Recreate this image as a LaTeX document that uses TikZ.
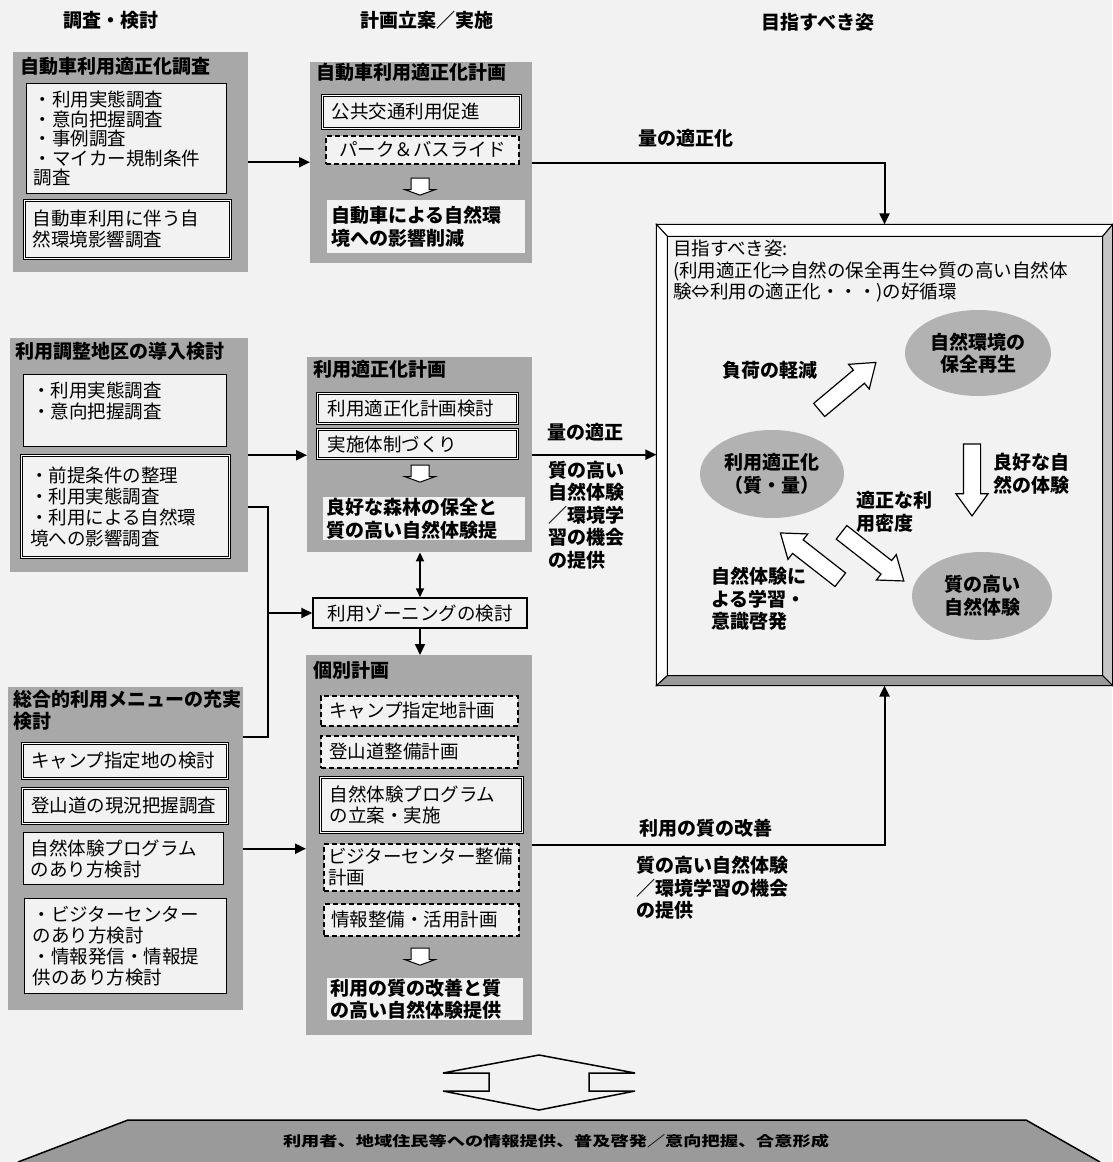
\documentclass[tikz,border=0pt]{standalone}
\usepackage{fontspec}
\setmainfont{Noto Sans CJK JP}
\usepackage{graphicx}
\usepackage{tikz}
\usetikzlibrary{arrows.meta, positioning, calc, shapes.geometric, shapes.arrows}
\definecolor{paper}{HTML}{F2F2F2}
\definecolor{grpgray}{HTML}{A8A8A8}
\definecolor{blobgray}{HTML}{B2B2B2}
\definecolor{bandgray}{HTML}{9A9A9A}
\definecolor{bevelgray}{HTML}{C6C6C6}
\newcommand{\bodyfont}{\fontsize{18.5}{21}\selectfont}
\newcommand{\headfont}{\fontsize{19}{22.5}\selectfont\bfseries}
\tikzset{
  every node/.style = {font=\bodyfont},
  colhead/.style   = {font=\headfont, inner sep=0pt},
  grpbox/.style    = {fill=grpgray, anchor=north west, inner sep=0pt},
  grptitle/.style  = {font=\headfont, align=left, inner sep=0pt},
  plainbox/.style  = {draw, line width=1.2pt, fill=paper, anchor=north west,
                      align=left, inner sep=0pt},
  dblbox/.style    = {plainbox, double, double distance=1.6pt, line width=1pt},
  dashbox/.style   = {plainbox, dash pattern=on 5pt off 3pt, line width=1.5pt},
  outbox/.style    = {fill=paper, anchor=north west, align=left, inner sep=0pt,
                      font=\headfont},
  zonebox/.style   = {draw, line width=1.5pt, fill=paper, minimum width=214pt,
                      minimum height=30pt, inner sep=0pt},
  downmark/.style  = {single arrow, draw, line width=1pt, fill=white, rotate=-90,
                      minimum height=17pt, inner xsep=0pt, inner ysep=8.5pt,
                      single arrow head extend=6pt, single arrow tip angle=140},
  bigarrow/.style  = {single arrow, draw, line width=1.2pt, fill=white,
                      minimum height=74pt, inner xsep=0pt, inner ysep=8pt,
                      single arrow head extend=7.5pt, single arrow tip angle=72},
  blob/.style      = {ellipse, fill=blobgray, font=\headfont, align=center,
                      inner sep=0pt},
  goalframe/.style = {draw, line width=1.2pt, fill=paper, minimum width=455pt,
                      minimum height=460pt, inner sep=0pt},
  lbl/.style       = {font=\headfont, align=left, inner sep=0pt},
  flow/.style      = {-{Triangle[length=11pt,width=10pt]}, line width=2pt},
  twoway/.style    = {{Triangle[length=9pt,width=8pt]}-{Triangle[length=9pt,width=8pt]},
                      line width=1.6pt},
  link/.style      = {line width=2pt},
}

\begin{document}
\begin{tikzpicture}[x=1pt, y=-1pt, node distance=8pt and 6pt]
    \useasboundingbox (0,0) rectangle (1112,1162);
    \fill[paper] (0,0) rectangle (1112,1162);

    % Column headers
    \node[colhead] (h1) at (111,20) {調査・検討};
    \node[colhead] (h2) at (427,20) {計画立案／実施};
    \node[colhead] (h3) at (818,22) {目指すべき姿};

    % Row 1 : car use
    \node[grpbox, minimum width=235pt, minimum height=220pt] (g1) at (13,52) {};
    \node[grptitle, below right=5pt and 7pt of g1.north west] (g1t) {自動車利用適正化調査};
    \node[plainbox, font=\fontsize{18.5}{19.5}\selectfont, minimum width=200pt,
          minimum height=110pt, text width=186pt] (sA) at (26,83)
          {・利用実態調査\\・意向把握調査\\・事例調査\\・マイカー規制条件\\調査};
    \node[dblbox, minimum width=206pt, minimum height=58pt, text width=190pt] (sB) at (24,200)
          {自動車利用に伴う自\\然環境影響調査};

    \node[grpbox, minimum width=222pt, minimum height=201pt] (m1) at (310,62) {};
    \node[grptitle, below right=1pt and 6pt of m1.north west] (m1t) {自動車利用適正化計画};
    \node[dblbox, minimum width=198pt, minimum height=33pt, text width=180pt] (m1a) at (322,95)
          {公共交通利用促進};
    \node[dashbox, align=center, minimum width=193pt, minimum height=28pt, text width=180pt]
          (m1b) at (325,135) {パーク＆バスライド};
    \node[downmark] (m1d) at (420,185) {};
    \node[outbox, minimum width=198pt, minimum height=53pt, text width=190pt] (m1o) at (327,200)
          {自動車による自然環\\境への影響削減};

    % Row 2 : use adjustment area
    \node[grpbox, minimum width=238pt, minimum height=234pt] (g2) at (10,338) {};
    \node[grptitle, below right=4pt and 5pt of g2.north west] (g2t) {利用調整地区の導入検討};
    \node[plainbox, minimum width=203pt, minimum height=72pt, text width=186pt] (sC) at (23,374)
          {・利用実態調査\\・意向把握調査\\\mbox{}};
    \node[dblbox, minimum width=208pt, minimum height=102pt, text width=190pt] (sD) at (21,455)
          {・前提条件の整理\\・利用実態調査\\・利用による自然環\\境への影響調査};

    \node[grpbox, minimum width=225pt, minimum height=195pt] (m2) at (307,357) {};
    \node[grptitle, below right=3pt and 6pt of m2.north west] (m2t) {利用適正化計画};
    \node[dblbox, minimum width=200pt, minimum height=30pt, text width=180pt] (m2a) at (317,393)
          {利用適正化計画検討};
    \node[dblbox, minimum width=200pt, minimum height=29pt, text width=180pt] (m2b) at (317,429)
          {実施体制づくり};
    \node[downmark] (m2d) at (420,472) {};
    \node[outbox, minimum width=202pt, minimum height=43pt, text width=196pt] (m2o) at (323,497)
          {良好な森林の保全と\\質の高い自然体験提};

    \node[zonebox] (zone) at (420,613) {利用ゾーニングの検討};

    % Row 3 : programme menu
    \node[grpbox, minimum width=235pt, minimum height=323pt] (g3) at (8,687) {};
    \node[grptitle, below right=3pt and 5pt of g3.north west] (g3t) {総合的利用メニューの充実\\検討};
    \node[dblbox, minimum width=205pt, minimum height=35pt, text width=188pt] (sE) at (22,743)
          {キャンプ指定地の検討};
    \node[dblbox, minimum width=205pt, minimum height=35pt, text width=188pt] (sF) at (22,788)
          {登山道の現況把握調査};
    \node[plainbox, minimum width=200pt, minimum height=52pt, text width=186pt] (sG) at (23,832)
          {自然体験プログラム\\のあり方検討};
    \node[plainbox, minimum width=202pt, minimum height=95pt, text width=186pt] (sH) at (24,898)
          {・ビジターセンター\\のあり方検討\\・情報発信・情報提\\供のあり方検討};

    \node[grpbox, minimum width=226pt, minimum height=380pt] (m3) at (306,655) {};
    \node[grptitle, below right=6pt and 7pt of m3.north west] (m3t) {個別計画};
    \node[dashbox, minimum width=197pt, minimum height=30pt, text width=180pt] (m3a) at (320,695)
          {キャンプ指定地計画};
    \node[dashbox, minimum width=197pt, minimum height=32pt, text width=180pt] (m3b) at (320,735)
          {登山道整備計画};
    \node[dblbox, minimum width=202pt, minimum height=55pt, text width=184pt] (m3c) at (320,777)
          {自然体験プログラム\\の立案・実施};
    \node[dashbox, minimum width=195pt, minimum height=47pt, text width=186pt] (m3d) at (323,843)
          {ビジターセンター整備\\計画};
    \node[dashbox, minimum width=195pt, minimum height=32pt, text width=180pt] (m3e) at (323,903)
          {情報整備・活用計画};
    \node[downmark] (m3f) at (420,955) {};
    \node[outbox, minimum width=196pt, minimum height=42pt, text width=190pt] (m3o) at (327,978)
          {利用の質の改善と質\\の高い自然体験提供};

    % Goal frame
    \node[goalframe] (goal) at (884.5,455) {};
    \filldraw[fill=white, line width=1pt] (goal.north west) -- (goal.north east)
        -- ($(goal.north east)+(-10,12)$) -- ($(goal.north west)+(11,12)$) -- cycle;
    \filldraw[fill=white, line width=1pt] (goal.north west) -- ($(goal.north west)+(11,12)$)
        -- ($(goal.south west)+(11,-10)$) -- (goal.south west) -- cycle;
    \filldraw[fill=bevelgray, line width=1pt] (goal.north east) -- (goal.south east)
        -- ($(goal.south east)+(-10,-10)$) -- ($(goal.north east)+(-10,12)$) -- cycle;
    \filldraw[fill=bandgray, line width=1pt] (goal.south west) -- (goal.south east)
        -- ($(goal.south east)+(-10,-10)$) -- ($(goal.south west)+(11,-10)$) -- cycle;
    \node[anchor=north west, align=left, inner sep=0pt, font=\fontsize{18.5}{21.5}\selectfont]
          (gtxt) at (673,240)
          {目指すべき姿:\\(利用適正化⇒自然の保全再生⇔質の高い自然体\\験⇔利用の適正化・・・)の好循環};

    \node[blob, minimum width=146pt, minimum height=86pt] (nat) at (978,353) {自然環境の\\保全再生};
    \node[blob, minimum width=144pt, minimum height=88pt] (use) at (772,474) {利用適正化\\（質・量）};
    \node[blob, minimum width=140pt, minimum height=88pt] (exq) at (982,596) {質の高い\\自然体験};

    \node[bigarrow, rotate=40] (aLoad) at (843,390) {};
    \node[lbl] (lLoad) at (770,370) {負荷の軽減};
    \node[bigarrow, rotate=-90, minimum height=72pt] (aGood) at (972,474) {};
    \node[lbl, anchor=west] (lGood) at (993,474) {良好な自\\然の体験};
    \node[bigarrow, rotate=-38, minimum height=79pt] (aDens) at (868,553) {};
    \node[lbl, anchor=west] (lDens) at (856,512) {適正な利\\用密度};
    \node[bigarrow, rotate=142, minimum height=76pt] (aLearn) at (815,560) {};
    \node[lbl, anchor=west] (lLearn) at (711,599) {自然体験に\\よる学習・\\意識啓発};

    % Connectors
    \draw[flow] (g1.east) -- (g1.east -| m1.west);
    \draw[flow] (m1.east) -| (goal.north);
    \node[lbl] (q1) at (686,138) {量の適正化};

    \draw[flow] (g2.east) -- (g2.east -| m2.west);
    \draw[flow] (m2.east) -- (m2.east -| goal.west);
    \node[lbl, anchor=west] (q2) at (547,432) {量の適正};
    \node[lbl, anchor=north west] (q2b) at (548,461)
          {質の高い\\自然体験\\／環境学\\習の機会\\の提供};

    \coordinate (j2) at (268,737);
    \draw[link] (g2.east |- sD.east) -| (j2) -- (j2 -| g3.east);
    \draw[flow] (j2 |- zone.west) -- (zone.west);
    \draw[twoway] (zone.north) -- (zone.north |- m2.south);
    \draw[flow] (zone.south) -- (zone.south |- m3.north);

    \draw[flow] (g3.east) -- (g3.east -| m3.west);
    \draw[flow] (m3.east) -| (goal.south);
    \node[lbl] (q3) at (706,828) {利用の質の改善};
    \node[lbl, anchor=north west] (q3b) at (636,856) {質の高い自然体験\\／環境学習の機会\\の提供};

    % Bottom : exchange arrow and banner
    \filldraw[fill=paper, line width=1.5pt] (539,1055) -- (635,1073) -- (589,1073) -- (589,1091)
        -- (635,1091) -- (539,1110) -- (443,1091) -- (489,1091) -- (489,1073) -- (443,1073) -- cycle;
    \filldraw[fill=bandgray, line width=1.5pt] (18,1162) -- (128,1120) -- (1026,1120) -- (1100,1162);
    \node[font=\fontsize{14}{16}\selectfont\bfseries] (band) at (556,1141)
          {\scalebox{1.3}[1]{利用者、地域住民等への情報提供、普及啓発／意向把握、合意形成}};
\end{tikzpicture}
\end{document}
